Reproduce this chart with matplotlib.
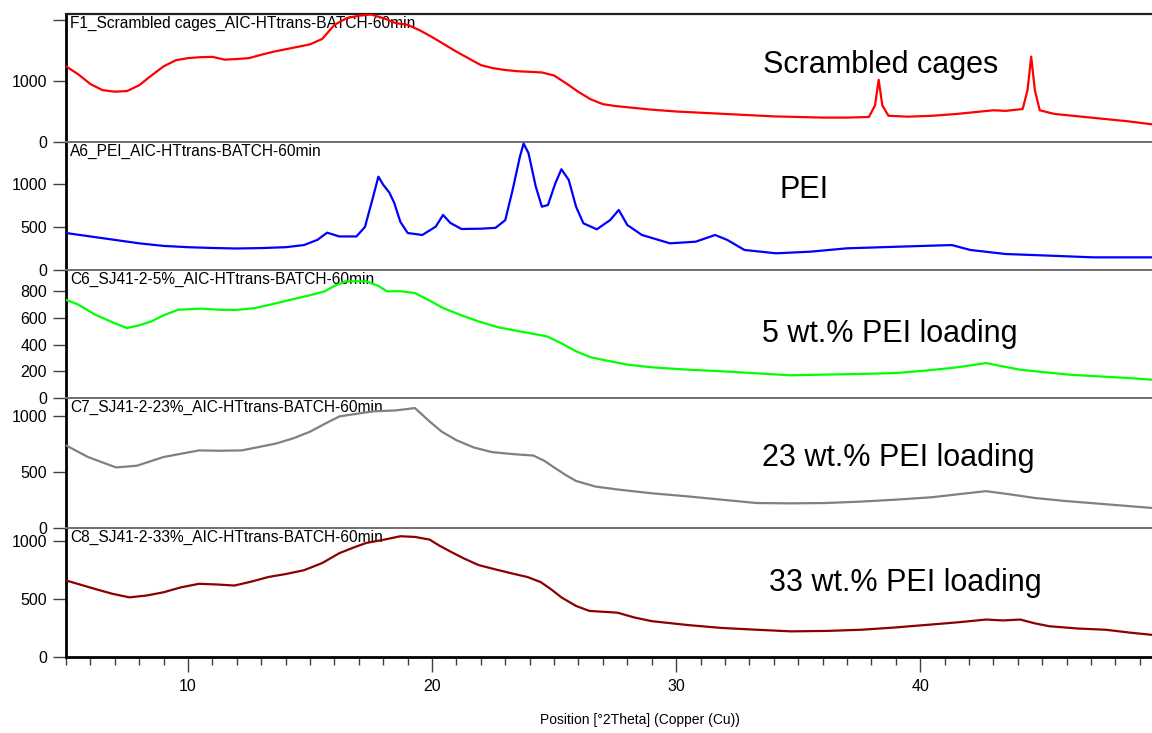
import matplotlib
matplotlib.use("Agg")
import matplotlib.pyplot as plt
from matplotlib.ticker import MultipleLocator, FixedLocator

plt.rcParams['font.family'] = ['Liberation Sans', 'DejaVu Sans']

# ---------------- data (2theta, counts) ----------------
f1_x = [5.0, 5.5, 6.0, 6.5, 7.0, 7.5, 8.0, 8.5, 9.0, 9.5, 10.0, 10.5, 11.0, 11.5, 12.0, 12.5,
        13.0, 13.5, 14.0, 14.5, 15.0, 15.5, 16.0, 16.5, 17.0, 17.5, 18.0, 18.5, 19.0, 19.5,
        20.0, 20.5, 21.0, 21.5, 22.0, 22.5, 23.0, 23.5, 24.0, 24.5, 25.0, 25.5, 26.0, 26.5,
        27.0, 27.5, 28.0, 29.0, 30.0, 31.0, 32.0, 33.0, 34.0, 35.0, 36.0, 37.0, 37.9, 38.15,
        38.3, 38.45, 38.7, 39.5, 40.5, 41.5, 42.5, 43.0, 43.5, 44.2, 44.4, 44.55, 44.7, 44.9,
        45.5, 46.5, 47.5, 48.5, 49.5]
f1_y = [1240, 1110, 950, 850, 825, 835, 930, 1090, 1240, 1340, 1375, 1390, 1395, 1350, 1360, 1375,
        1430, 1480, 1520, 1560, 1600, 1690, 1920, 2030, 2070, 2090, 2030, 1950, 1920, 1830,
        1720, 1600, 1480, 1370, 1260, 1210, 1180, 1160, 1150, 1140, 1090, 960, 820, 700,
        620, 590, 570, 530, 500, 480, 460, 440, 420, 410, 400, 400, 410, 600,
        1020, 600, 430, 415, 430, 460, 500, 520, 510, 540, 850, 1400, 850, 520,
        460, 420, 380, 340, 290]

a6_x = [5.0, 6.0, 7.0, 8.0, 9.0, 10.0, 11.0, 12.0, 13.0, 14.0, 14.75, 15.3, 15.7, 16.2, 16.9,
        17.25, 17.55, 17.8, 18.0, 18.25, 18.45, 18.7, 19.0, 19.6, 20.15, 20.45, 20.75, 21.2,
        22.0, 22.6, 23.0, 23.3, 23.6, 23.75, 23.95, 24.25, 24.5, 24.75, 25.05, 25.3, 25.6,
        25.9, 26.2, 26.75, 27.3, 27.65, 28.0, 28.6, 29.75, 30.8, 31.6, 32.1, 32.8, 34.1,
        35.5, 37.0, 39.1, 41.3, 42.05, 43.5, 45.65, 47.1, 49.5]
a6_y = [430, 390, 350, 310, 280, 265, 256, 250, 255, 265, 290, 350, 434, 390, 390,
        500, 814, 1085, 990, 900, 780, 560, 430, 407, 504, 640, 547, 477,
        480, 490, 580, 930, 1318, 1470, 1360, 969, 736, 756, 1008, 1171, 1047,
        736, 543, 473, 581, 698, 523, 407, 310, 329, 407, 349, 233, 194,
        213, 252, 271, 290, 233, 186, 163, 147, 147]

c6_x = [5.0, 5.5, 6.2, 7.0, 7.5, 8.0, 8.5, 9.0, 9.6, 10.5, 11.3, 12.0, 12.75, 13.5, 14.2,
        15.0, 15.6, 16.0, 16.45, 17.3, 17.8, 18.15, 18.7, 19.3, 19.9, 20.45, 21.2, 21.9,
        22.7, 23.6, 24.7, 25.3, 25.9, 26.5, 27.3, 28.0, 29.0, 30.5, 31.9, 33.3, 34.7, 36.0,
        37.5, 39.0, 40.2, 41.3, 42.1, 42.7, 43.3, 44.1, 45.0, 46.1, 47.5, 48.5, 49.5]
c6_y = [736, 700, 624, 560, 524, 545, 574, 620, 661, 670, 661, 660, 674, 705, 736,
        770, 799, 840, 874, 874, 840, 799, 800, 786, 730, 674, 620, 574,
        530, 499, 462, 410, 350, 305, 275, 250, 230, 212, 200, 185, 170, 175,
        180, 187, 205, 225, 245, 262, 240, 212, 195, 175, 160, 150, 137]

c7_x = [5.0, 5.9, 7.05, 7.9, 9.0, 10.45, 11.3, 12.2, 13.6, 14.3, 15.0, 15.6, 16.2, 16.9, 17.6,
        18.5, 19.3, 19.9, 20.4, 21.0, 21.7, 22.45, 23.3, 24.15, 24.6, 25.0, 25.5, 25.9, 26.7,
        27.6, 29.0, 30.45, 32.0, 33.3, 34.7, 36.1, 37.5, 39.0, 40.5, 41.5, 42.7, 43.7, 44.7,
        46.0, 47.0, 48.3, 49.5]
c7_y = [738, 634, 541, 556, 634, 693, 690, 693, 754, 800, 860, 930, 996, 1020, 1042,
        1050, 1071, 951, 860, 784, 720, 678, 660, 647, 600, 541, 470, 420, 370,
        344, 310, 283, 250, 223, 220, 223, 235, 253, 275, 300, 329, 300, 268,
        240, 223, 200, 179]

c8_x = [5.0, 6.2, 6.9, 7.6, 8.3, 9.0, 9.7, 10.45, 11.2, 11.9, 12.6, 13.3, 14.0, 14.75, 15.5,
        16.2, 16.8, 17.3, 18.0, 18.7, 19.3, 19.9, 20.3, 20.75, 21.3, 21.9, 22.6, 23.3, 23.9,
        24.45, 24.9, 25.3, 25.9, 26.45, 27.0, 27.6, 28.3, 29.0, 30.5, 31.9, 33.3, 34.7, 36.2,
        37.6, 39.0, 40.4, 41.6, 42.7, 43.4, 44.1, 44.7, 45.3, 46.5, 47.6, 48.6, 49.5]
c8_y = [660, 586, 545, 514, 530, 558, 600, 631, 625, 616, 650, 690, 715, 748, 810,
        895, 945, 983, 1010, 1041, 1035, 1012, 960, 909, 850, 793, 755, 719, 690,
        646, 580, 514, 440, 397, 390, 382, 340, 309, 275, 250, 235, 221, 225,
        235, 255, 279, 300, 323, 315, 323, 290, 265, 245, 235, 210, 191]

series_x = [f1_x, a6_x, c6_x, c7_x, c8_x]
series_y = [f1_y, a6_y, c6_y, c7_y, c8_y]
names = ["F1_Scrambled cages_AIC-HTtrans-BATCH-60min",
         "A6_PEI_AIC-HTtrans-BATCH-60min",
         "C6_SJ41-2-5%_AIC-HTtrans-BATCH-60min",
         "C7_SJ41-2-23%_AIC-HTtrans-BATCH-60min",
         "C8_SJ41-2-33%_AIC-HTtrans-BATCH-60min"]
labels = ["Scrambled cages", "PEI", "5 wt.% PEI loading",
          "23 wt.% PEI loading", "33 wt.% PEI loading"]
colors = ["#ff0000", "#0000ff", "#00ff00", "#808080", "#8b0000"]
y_tops = [2098, 1488, 959, 1161, 1112]
y_ticks = [[0, 1000, 2000], [0, 500, 1000], [0, 200, 400, 600, 800],
           [0, 500, 1000], [0, 500, 1000]]
y_ticklabels = [["0", "1000", ""], ["0", "500", "1000"],
                ["0", "200", "400", "600", "800"],
                ["0", "500", "1000"], ["0", "500", "1000"]]
x_min, x_max = 5.0, 49.5
x_label = "Position [°2Theta] (Copper (Cu))"

# ---------------- layout ----------------
W, H = 1152, 733
fig = plt.figure(figsize=(W / 100, H / 100), dpi=100)
left_px, right_px = 66, 1152
edges = [14, 142, 270, 398, 528, 657]
label_pos = [(763, 73), (780, 198), (762, 342), (762, 466), (769, 591)]

axes = []
for i in range(5):
    top, bot = edges[i], edges[i + 1]
    ax = fig.add_axes([left_px / W, 1 - bot / H, (right_px - left_px) / W, (bot - top) / H])
    ax.plot(series_x[i], series_y[i], color=colors[i], lw=1.6, zorder=3)
    ax.set_xlim(x_min, x_max)
    ax.set_ylim(0, y_tops[i])
    ax.set_yticks(y_ticks[i])
    ax.set_yticklabels(y_ticklabels[i])
    ax.tick_params(axis='y', direction='out', length=9.4, width=1.0, color='#404040',
                   pad=4.3, labelsize=11.5, labelcolor='black')
    ax.spines['right'].set_visible(False)
    ax.spines['left'].set_color('black')
    ax.spines['left'].set_linewidth(2.0)
    if i == 0:
        ax.spines['top'].set_color('#202020')
        ax.spines['top'].set_linewidth(1.6)
    else:
        ax.spines['top'].set_color('#707070')
        ax.spines['top'].set_linewidth(1.4)
    if i < 4:
        ax.spines['bottom'].set_visible(False)
        ax.tick_params(axis='x', which='both', bottom=False, labelbottom=False)
    else:
        ax.spines['bottom'].set_color('black')
        ax.spines['bottom'].set_linewidth(2.0)
        ax.xaxis.set_major_locator(FixedLocator([10, 20, 30, 40]))
        ax.xaxis.set_minor_locator(MultipleLocator(1))
        ax.tick_params(axis='x', which='major', direction='out', length=11, width=1.0,
                       color='#404040', pad=4.5, labelsize=11.5)
        ax.tick_params(axis='x', which='minor', direction='out', length=5.5, width=1.0,
                       color='#404040')
    ax.patch.set_alpha(0)
    ax.annotate(names[i], xy=(0, 1), xycoords='axes fraction', xytext=(3, -1.5),
                textcoords='offset points', ha='left', va='top', fontsize=11.2, zorder=1)
    axes.append(ax)
    lx, ly = label_pos[i]
    fig.text(lx / W, 1 - ly / H, labels[i], fontsize=22, ha='left', va='baseline')

fig.text(640 / W, 1 - 720 / H, x_label, fontsize=10, ha='center', va='center')

fig.savefig("out.png", dpi=100)
